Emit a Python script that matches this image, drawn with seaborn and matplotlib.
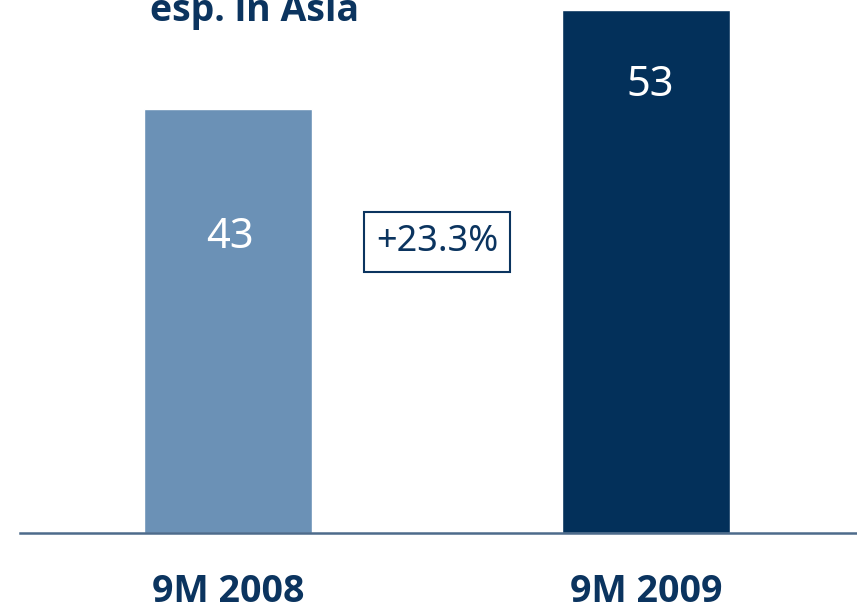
import matplotlib
matplotlib.use("Agg")
import matplotlib.pyplot as plt
from matplotlib import font_manager
import seaborn as sns
import pandas as pd

categories = ["9M 2008", "9M 2009"]
values = [43, 53]
growth_label = "+23.3%"
title = "esp. in Asia"

LIGHT = "#6b91b6"
DARK = "#03305a"
NAVY = "#0b345f"
AXIS = "#4d6b8b"

bold_fams = {}
for f in font_manager.fontManager.ttflist:
    w = f.weight if isinstance(f.weight, int) else (700 if "bold" in str(f.weight).lower() else 400)
    if w >= 600:
        bold_fams[f.name] = True
BOLD_FONT = "DejaVu Sans"
for cand in ["Liberation Sans Narrow", "Open Sans", "Noto Sans", "Lato", "Roboto"]:
    if cand in bold_fams:
        BOLD_FONT = cand
        break
names = {f.name for f in font_manager.fontManager.ttflist}
FONT = "Liberation Sans Narrow" if "Liberation Sans Narrow" in names else "Noto Sans"

sns.set_theme(style="white")
plt.rcParams["font.family"] = [FONT, "DejaVu Sans"]

fig = plt.figure(figsize=(8.57, 6.06), dpi=100)
ax = fig.add_axes([20 / 857, 73 / 606, 837 / 857, 533 / 606])

df = pd.DataFrame({"cat": categories, "val": values})
sns.barplot(data=df, x="cat", y="val", hue="cat", palette=[LIGHT, DARK],
            width=0.402, legend=False, ax=ax, saturation=1)

ax.set_xlim(-0.4976, 1.5048)
ax.set_ylim(0, 54.06)
for s in ["top", "right", "left"]:
    ax.spines[s].set_visible(False)
ax.spines["bottom"].set_color(AXIS)
ax.spines["bottom"].set_linewidth(1.8)
ax.set_yticks([])
ax.set_xlabel("")
ax.set_ylabel("")
ax.tick_params(axis="x", length=0, pad=29)
ax.set_xticks(range(len(categories)))
ax.set_xticklabels(categories, fontsize=27, fontweight="bold", color=NAVY,
                   family=[BOLD_FONT, "DejaVu Sans"])

offsets = [(2, -128), (4, -75)]
for i, v in enumerate(values):
    ax.annotate(str(v), (i, v), xytext=offsets[i], textcoords="offset pixels",
                ha="center", va="center", color="white", fontsize=30)

ax.text(0.5, 29.5, growth_label, ha="center", va="center", color=NAVY,
        fontsize=26,
        bbox=dict(boxstyle="square,pad=0.34", facecolor="white",
                  edgecolor=NAVY, linewidth=1.5))

fig.text(150 / 857, 1 - 21 / 606, title, ha="left", va="baseline",
         color=NAVY, fontsize=27, fontweight="bold",
         family=[BOLD_FONT, "DejaVu Sans"])

fig.savefig("out.png", dpi=100)
